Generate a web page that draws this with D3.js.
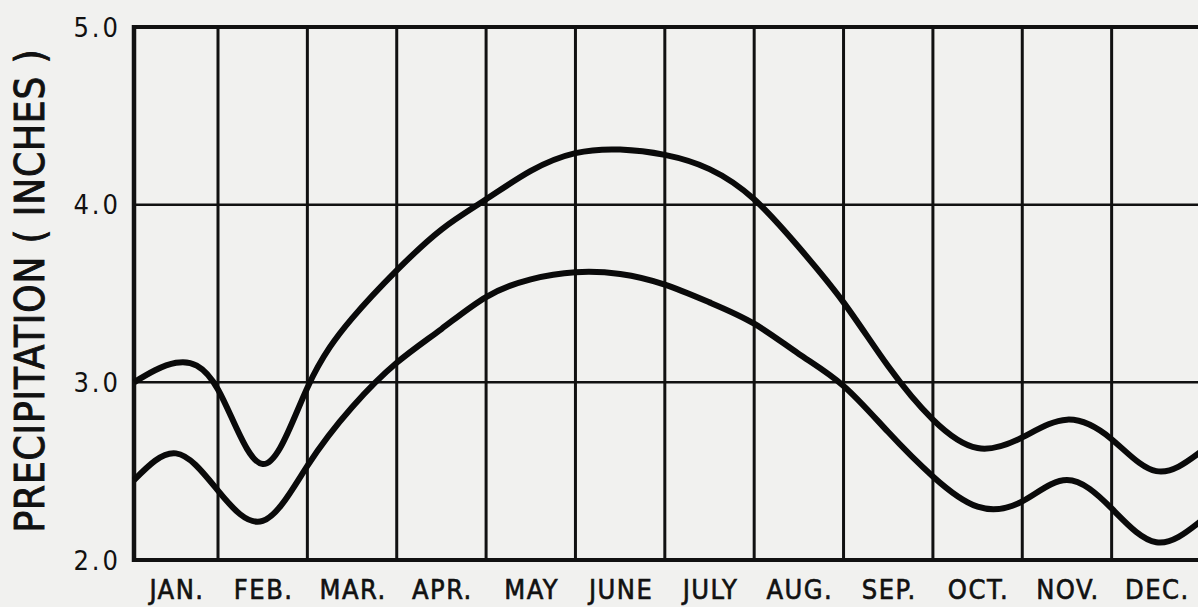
<!DOCTYPE html>
<html>
<script src="https://d3js.org/d3.v7.min.js"></script>

<head>
    <style>
        body {
            margin: 0;
            background-color: #f1f1ef;
        }

        svg {
            display: block;
        }

        text {
            font-family: "Liberation Sans Narrow", "DejaVu Sans Condensed", Arial, sans-serif;
            fill: #111;
        }
    </style>
</head>

<body>
</body>
<script>
    const width = 1198,
        height = 607;

    const months = ["JAN.", "FEB.", "MAR.", "APR.", "MAY", "JUNE", "JULY", "AUG.", "SEP.", "OCT.", "NOV.", "DEC."];
    const yTicks = [2.0, 3.0, 4.0, 5.0];

    // position in months (0 = start of Jan), read every half month
    const steps = [0, 0.5, 1, 1.5, 2, 2.5, 3, 3.5, 4, 4.5, 5, 5.5, 6, 6.5, 7, 7.5, 8, 8.5, 9, 9.5, 10, 10.5, 11, 11.5, 12];
    const upper = [3.00, 3.11, 2.96, 2.54, 2.97, 3.36, 3.63, 3.86, 4.03, 4.19, 4.29, 4.31, 4.28, 4.20, 4.03, 3.76, 3.45, 3.09, 2.79, 2.63, 2.69, 2.79, 2.68, 2.50, 2.61];
    const lower = [2.45, 2.60, 2.39, 2.22, 2.53, 2.86, 3.11, 3.30, 3.48, 3.58, 3.62, 3.61, 3.55, 3.45, 3.33, 3.16, 2.98, 2.72, 2.47, 2.30, 2.33, 2.45, 2.29, 2.10, 2.22];

    const svg = d3.select("body").append("svg").attr("width", width).attr("height", height);

    // first column of the original sheet is a little narrower
    const x = d3.scaleLinear().domain([0, 1, 12]).range([134, 218, 1201]);
    const y = d3.scaleLinear().domain([2, 5]).range([560, 27]);

    function draw() {
        const grid = svg.append("g").attr("stroke", "#111");

        grid.selectAll(".vline")
            .data(d3.range(1, 13))
            .join("line")
            .attr("class", "vline")
            .attr("x1", d => x(d)).attr("x2", d => x(d))
            .attr("y1", y(5)).attr("y2", y(2))
            .attr("stroke-width", 3);

        grid.selectAll(".hline")
            .data([3, 4])
            .join("line")
            .attr("class", "hline")
            .attr("x1", x(0)).attr("x2", x(12))
            .attr("y1", d => y(d)).attr("y2", d => y(d))
            .attr("stroke-width", 2.5);

        // frame
        grid.append("line").attr("x1", x(0) - 2).attr("x2", x(12)).attr("y1", y(5)).attr("y2", y(5)).attr("stroke-width", 4);
        grid.append("line").attr("x1", x(0) - 2).attr("x2", x(12)).attr("y1", y(2)).attr("y2", y(2)).attr("stroke-width", 4);
        grid.append("line").attr("x1", x(0)).attr("x2", x(0)).attr("y1", y(5) - 2).attr("y2", y(2) + 2).attr("stroke-width", 4.5);

        const line = d3.line()
            .x((d, i) => x(steps[i]))
            .y(d => y(d))
            .curve(d3.curveNatural);

        svg.selectAll(".series")
            .data([upper, lower])
            .join("path")
            .attr("class", "series")
            .attr("d", line)
            .attr("fill", "none")
            .attr("stroke", "#0a0a0a")
            .attr("stroke-width", 6)
            .attr("stroke-linejoin", "round");

        svg.selectAll(".ytick")
            .data(yTicks)
            .join("text")
            .attr("class", "ytick")
            .attr("x", 121)
            .attr("y", d => y(d))
            .attr("dy", "0.36em")
            .attr("text-anchor", "end")
            .attr("font-size", 27)
            .attr("font-family", "'Liberation Sans', Arial, sans-serif")
            .attr("letter-spacing", 3)
            .text(d => d.toFixed(1));

        svg.selectAll(".month")
            .data(months)
            .join("text")
            .attr("class", "month")
            .attr("x", (d, i) => x(i + 0.5) + 1)
            .attr("y", 599)
            .attr("text-anchor", "middle")
            .attr("font-size", 27)
            .attr("stroke", "#111")
            .attr("stroke-width", 0.6)
            .attr("letter-spacing", 1.5)
            .text(d => d);

        svg.append("text")
            .attr("transform", "translate(44," + 291 + ") rotate(-90)")
            .attr("text-anchor", "middle")
            .attr("font-size", 40)
            .attr("stroke", "#111")
            .attr("stroke-width", 0.9)
            .attr("textLength", 483)
            .attr("lengthAdjust", "spacing")
            .text("PRECIPITATION ( INCHES )");
    }

    draw();
</script>

</html>
